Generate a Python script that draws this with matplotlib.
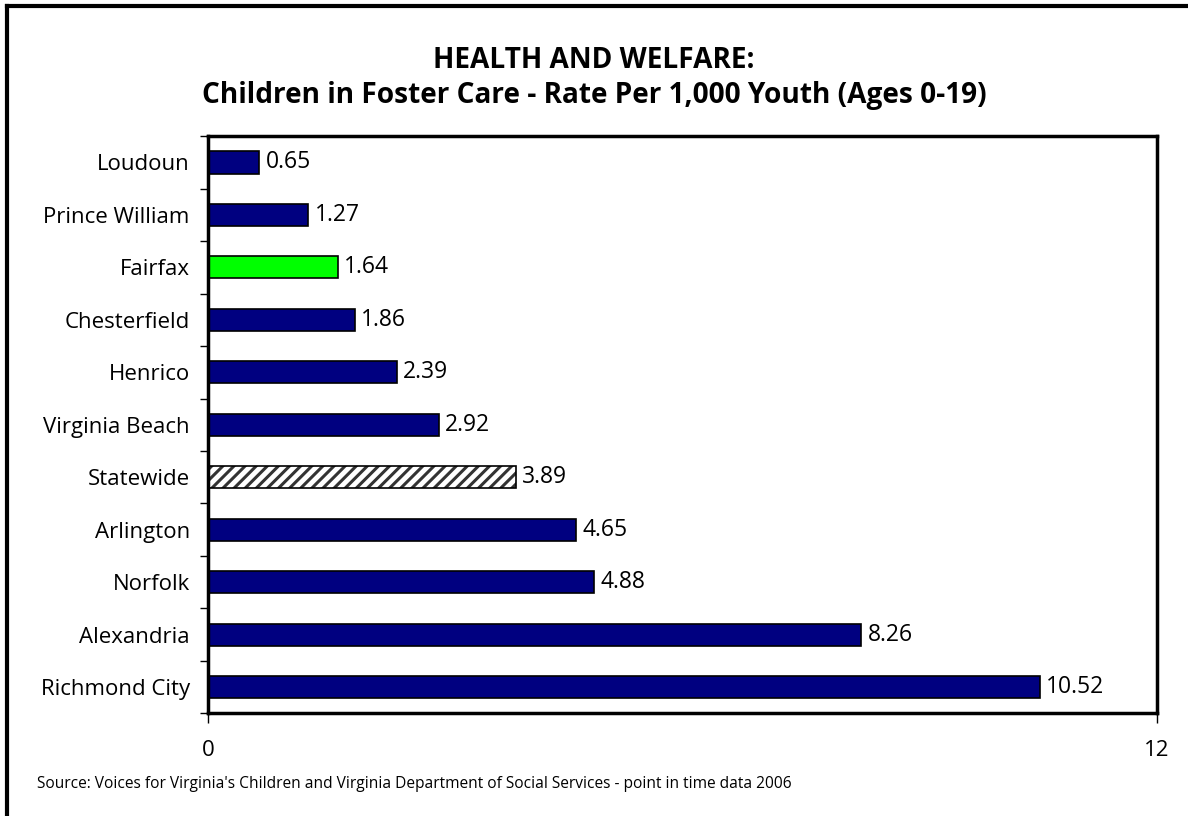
import matplotlib.pyplot as plt
from matplotlib.lines import Line2D
import numpy as np

plt.rcParams['font.family'] = ['Open Sans', 'DejaVu Sans']
plt.rcParams['hatch.linewidth'] = 2.2
plt.rcParams['hatch.color'] = '#333333'

# data, top to bottom as shown
regions = ['Loudoun', 'Prince William', 'Fairfax', 'Chesterfield', 'Henrico',
           'Virginia Beach', 'Statewide', 'Arlington', 'Norfolk', 'Alexandria',
           'Richmond City']
rates = [0.65, 1.27, 1.64, 1.86, 2.39, 2.92, 3.89, 4.65, 4.88, 8.26, 10.52]
value_labels = ['0.65', '1.27', '1.64', '1.86', '2.39', '2.92', '3.89',
                '4.65', '4.88', '8.26', '10.52']

fig = plt.figure(figsize=(11.88, 8.16), dpi=100)
ax = fig.add_axes([0.175, 0.126, 0.799, 0.707])

y = np.arange(len(regions))
for i, (name, val) in enumerate(zip(regions, rates)):
    if name == 'Fairfax':
        ax.barh(i, val, height=0.42, color='#00ff00', edgecolor='black', linewidth=1.2)
    elif name == 'Statewide':
        ax.barh(i, val, height=0.42, color='white', edgecolor='#333333', hatch='///', linewidth=0)
        ax.barh(i, val, height=0.42, fill=False, edgecolor='black', linewidth=1.2)
    else:
        ax.barh(i, val, height=0.42, color='#000080', edgecolor='black', linewidth=1.2)
    ax.text(val + 0.08, i, value_labels[i], va='center', ha='left', fontsize=16.5)

ax.set_ylim(len(regions) - 0.5, -0.5)
ax.set_xlim(0, 12)
ax.set_yticks(np.arange(len(regions) + 1) - 0.5)
ax.set_yticklabels([])
ax.set_yticks(y, minor=True)
ax.set_yticklabels(regions, minor=True, fontsize=16)
ax.tick_params(axis='y', which='minor', length=0, pad=13)
ax.tick_params(axis='y', which='major', length=6, width=1, direction='out')
ax.set_xticks([0, 12])
ax.set_xticklabels(['0', '12'], fontsize=16)
ax.tick_params(axis='x', length=7, width=1, direction='out', pad=12)
for s in ax.spines.values():
    s.set_linewidth(2.5)

fig.text(0.5, 0.9167, 'HEALTH AND WELFARE:', ha='center', va='baseline',
         fontsize=20.2, fontweight='bold')
fig.text(0.5, 0.8738, 'Children in Foster Care - Rate Per 1,000 Youth (Ages 0-19)',
         ha='center', va='baseline', fontsize=20.2, fontweight='bold')
fig.text(0.031, 0.039, "Source: Voices for Virginia's Children and Virginia Department of Social Services - point in time data 2006",
         ha='left', va='center', fontsize=11.2)

# outer frame (left and top edges)
fig.add_artist(Line2D([0.0063, 0.0063], [0.0, 0.9925], color='black', linewidth=3))
fig.add_artist(Line2D([0.0063, 1.0], [0.9925, 0.9925], color='black', linewidth=3))

fig.savefig('out.png', dpi=100)
